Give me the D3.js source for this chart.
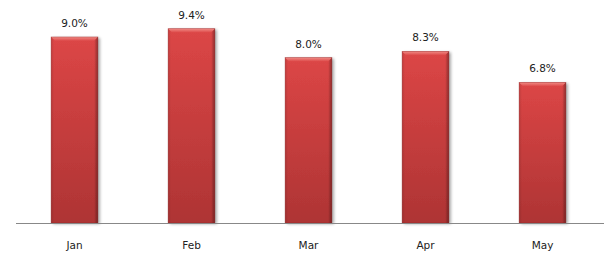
<!DOCTYPE html>
<html><head><meta charset="utf-8">
<script src="https://cdn.jsdelivr.net/npm/d3@7"></script>
<style>body{margin:0;background:#fff}svg{display:block}</style>
</head><body>
<svg id="c" width="608" height="257"></svg>
<script>
const categories = ["Jan", "Feb", "Mar", "Apr", "May"];
const values = [9.0, 9.4, 8.0, 8.3, 6.8];

const svg = d3.select("#c");
const x = d3.scaleBand().domain(categories).range([16, 601]).paddingInner(0.6).paddingOuter(0.3);
const y = d3.scaleLinear().domain([0, 10]).range([223, 16.3]);

const defs = svg.append("defs");
const gv = defs.append("linearGradient").attr("id","gv").attr("x1",0).attr("y1",0).attr("x2",0).attr("y2",1);
gv.append("stop").attr("offset","0%").attr("stop-color","#dc4646");
gv.append("stop").attr("offset","100%").attr("stop-color","#ae3434");
const gh = defs.append("linearGradient").attr("id","gh").attr("x1",0).attr("y1",0).attr("x2",1).attr("y2",0);
gh.append("stop").attr("offset","0%").attr("stop-color","#000").attr("stop-opacity",0.12);
gh.append("stop").attr("offset","6%").attr("stop-color","#000").attr("stop-opacity",0);
gh.append("stop").attr("offset","92%").attr("stop-color","#000").attr("stop-opacity",0);
gh.append("stop").attr("offset","100%").attr("stop-color","#000").attr("stop-opacity",0.35);
const gt = defs.append("linearGradient").attr("id","gt").attr("x1",0).attr("y1",0).attr("x2",0).attr("y2",1);
gt.append("stop").attr("offset","0%").attr("stop-color","#f08a84");
gt.append("stop").attr("offset","100%").attr("stop-color","#dc4646");
const sh = defs.append("filter").attr("id","sh").attr("x","-20%").attr("y","-20%").attr("width","150%").attr("height","140%");
sh.append("feGaussianBlur").attr("in","SourceAlpha").attr("stdDeviation",1.5).attr("result","b");
sh.append("feOffset").attr("in","b").attr("dx",2).attr("dy",1).attr("result","o");
sh.append("feComponentTransfer").attr("in","o").attr("result","o2").append("feFuncA").attr("type","linear").attr("slope",0.35);
const mg = sh.append("feMerge"); mg.append("feMergeNode").attr("in","o2"); mg.append("feMergeNode").attr("in","SourceGraphic");

const data = categories.map((c,i)=>({c, v: values[i]}));
const g = svg.append("g");
const bars = g.selectAll("g.bar").data(data).join("g").attr("class","bar");
bars.append("rect").attr("x",d=>x(d.c)).attr("y",d=>y(d.v)).attr("width",x.bandwidth()).attr("height",d=>y(0)-y(d.v))
  .attr("fill","url(#gv)").attr("filter","url(#sh)");
bars.append("rect").attr("x",d=>x(d.c)).attr("y",d=>y(d.v)).attr("width",x.bandwidth()).attr("height",d=>y(0)-y(d.v))
  .attr("fill","url(#gh)");
bars.append("path").attr("d",d=>{const x0=x(d.c),x1=x0+x.bandwidth(),t=y(d.v);return `M${x0},${t}L${x1},${t}L${x1-4},${t+4}L${x0+4},${t+4}Z`;})
  .attr("fill","url(#gt)");
bars.append("rect").attr("x",d=>x(d.c)).attr("y",d=>y(d.v)).attr("width",x.bandwidth()).attr("height",d=>y(0)-y(d.v))
  .attr("fill","none").attr("stroke","#8e2424").attr("stroke-width",0.6).attr("stroke-opacity",0.6);

bars.append("text").attr("x",d=>x(d.c)+x.bandwidth()/2).attr("y",d=>y(d.v)-10)
  .attr("text-anchor","middle").attr("font-family","DejaVu Sans, Verdana, sans-serif").attr("font-size",10.5).attr("fill","#222")
  .text(d=>d.v.toFixed(1)+"%");

const ax = svg.append("g").attr("transform",`translate(0,${y(0)})`).call(d3.axisBottom(x).tickSize(0).tickPadding(19));
ax.select(".domain").attr("stroke","#888").attr("d","M16,0.5H604");
ax.selectAll("text").attr("font-family","DejaVu Sans, Verdana, sans-serif").attr("font-size",10.5).attr("fill","#222");
</script>
</body></html>
